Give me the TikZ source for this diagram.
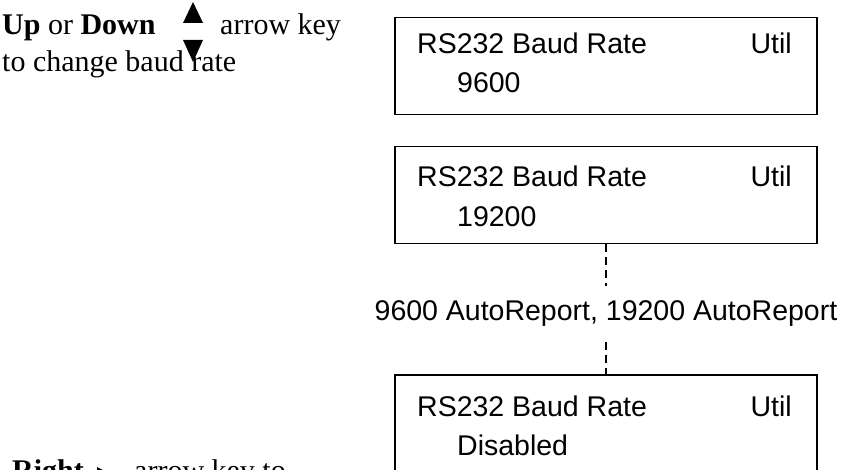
\documentclass[tikz,border=0pt]{standalone}
\usepackage{fontspec}
\setmainfont{Liberation Serif}
\newfontfamily\lcdfam{Liberation Sans}
\newcommand\lcdfont{\lcdfam\fontsize{28.5}{34}\selectfont}
\newcommand\notefont{\rmfamily\fontsize{30}{36}\selectfont}
\begin{document}
\begin{tikzpicture}[x=1pt,y=-1pt,
  lcd/.style={draw, line width=1.6pt, minimum width=422pt, minimum height=97pt, inner sep=0pt},
  lcdtxt/.style={anchor=base west, inner sep=0pt, font=\lcdfont},
  lcdtxtr/.style={anchor=base east, inner sep=0pt, font=\lcdfont},
  note/.style={anchor=base west, inner sep=0pt, font=\notefont},
  keytri/.style={fill=black},
  link/.style={dash pattern=on 8pt off 5pt, line width=1.3pt}]
\useasboundingbox (0,0) rectangle (841,470);
\clip (0,0) rectangle (841,470);

% left notes
\node[note] (updown) at (2,35) {\textbf{Up} or \textbf{Down}};
\node[note] (akey) at (220,35) {arrow key};
\node[note] (tochg) at (2,72) {to change baud rate};
\fill[keytri] (183,23) -- (203,23) -- (193,2) -- cycle;
\fill[keytri] (183,40) -- (203,40) -- (193,62) -- cycle;

\node[note] (right) at (12,480) {\textbf{Right}};
\fill[keytri] (97,467) -- (97,487) -- (117,477) -- cycle;
\node[note] (akey2) at (134,480) {arrow key to};

% boxes
\node[lcd] (b1) at (606,66) {};
\node[lcd] (b2) at (606,195) {};
\node[lcd] (b3) at (606,423.5) {};

\node[lcdtxt]  (b1a) at (417,54) {RS232 Baud Rate};
\node[lcdtxtr] (b1b) at (792,54) {Util};
\node[lcdtxt]  (b1c) at (457,93) {9600};

\node[lcdtxt]  (b2a) at (417,187) {RS232 Baud Rate};
\node[lcdtxtr] (b2b) at (792,187) {Util};
\node[lcdtxt]  (b2c) at (457,227) {19200};

\node[lcdtxt]  (b3a) at (417,416) {RS232 Baud Rate};
\node[lcdtxtr] (b3b) at (792,416) {Util};
\node[lcdtxt]  (b3c) at (457,455) {Disabled};

% label and dashed connectors
\node[font=\lcdfont, inner xsep=0pt, inner ysep=15pt] (lbl) at (606,314) {9600 AutoReport, 19200 AutoReport};
\draw[link] (b2.south) -- (lbl.north);
\draw[link] (lbl.south) -- (b3.north);
\end{tikzpicture}
\end{document}
